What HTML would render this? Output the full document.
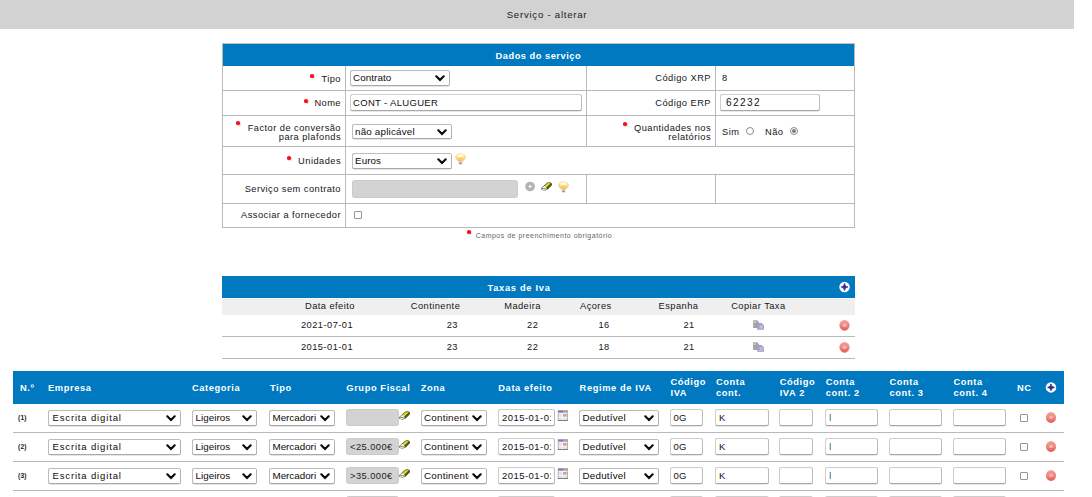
<!DOCTYPE html>
<html><head><meta charset="utf-8">
<style>
*{box-sizing:border-box;margin:0;padding:0}
html,body{width:1092px;height:497px;overflow:hidden;background:#fff}
body{font-family:"Liberation Sans",sans-serif;font-size:9.3px;color:#161616;letter-spacing:.45px;position:relative}
.a{position:absolute;white-space:nowrap}
.topbar{left:0;top:0;width:1074px;height:29px;background:#d2d2d2;text-align:center;line-height:30px;color:#1a1a1a;font-size:9.6px;letter-spacing:.76px;padding-left:20px}
.blue{background:#0079c1}
.bt{color:#fff;font-weight:bold;font-size:9.3px;letter-spacing:.6px;line-height:10px}
.hl{background:#b9b9b9;height:1px}
.vl{background:#b9b9b9;width:1px}
.t{line-height:10px;height:10px;color:#161616}
.r{text-align:right}
.c{text-align:center}
.star{width:3.7px;height:3.7px;border-radius:50%;background:#f5101c;box-shadow:.8px .8px 1.2px rgba(0,0,0,.22);filter:blur(.35px)}
.sel{border:1px solid #bcbcbc;border-bottom-color:#a9a9a9;border-right-color:#b2b2b2;border-radius:2.5px;background:#fff;height:16px;line-height:13px;padding-left:2px;color:#0c0c0c;font-size:9.8px;letter-spacing:.1px;overflow:hidden;box-shadow:0 .5px 0 #ccc}
.sel svg{position:absolute;right:4px;top:4px}
.sel i{position:absolute;right:0;top:0;width:17px;height:14px;background:#fff}
.inp{border:1px solid #cdcdcd;border-right-color:#bcbcbc;border-bottom-color:#a8a8a8;border-radius:2.5px;background:#fff;height:16px;line-height:15px;padding-left:4px;color:#111;overflow:hidden;box-shadow:0 .5px 0 #d2d2d2;font-size:9.5px;letter-spacing:.2px}
.gray{background:#d3d3d3;border:1px solid #cbcbcb;border-radius:2.5px;height:17px;line-height:15px;color:#222}
.cb{width:8px;height:8px;border:1px solid #969696;border-radius:1px;background:#fff}
.rd{width:8px;height:8px;border:1px solid #8a8a8a;border-radius:50%;background:#fff}
.sm{font-size:6.7px;font-weight:bold;letter-spacing:.2px;color:#222;line-height:8px}
</style></head><body>
<svg width="0" height="0" style="position:absolute"><defs><filter id="b3" x="-20%" y="-20%" width="140%" height="140%"><feGaussianBlur stdDeviation=".35"/></filter><filter id="b5" x="-20%" y="-20%" width="140%" height="140%"><feGaussianBlur stdDeviation=".6"/></filter><filter id="b4" x="-20%" y="-20%" width="140%" height="140%"><feGaussianBlur stdDeviation=".45"/></filter><radialGradient id="bg" cx="50%" cy="40%" r="60%"><stop offset="0" stop-color="#fff3c8"/><stop offset=".6" stop-color="#fde0a0"/><stop offset="1" stop-color="#f3b25c"/></radialGradient><linearGradient id="rl" x1="0" y1="0" x2="0" y2="1"><stop offset="0" stop-color="#f29f98"/><stop offset=".5" stop-color="#ee8882"/><stop offset="1" stop-color="#e55a53"/></linearGradient><radialGradient id="rg" cx="50%" cy="45%" r="55%"><stop offset="0" stop-color="#f0a199"/><stop offset=".6" stop-color="#e9776f"/><stop offset="1" stop-color="#e2625a"/></radialGradient></defs></svg>
<div class="a topbar">Serviço - alterar</div>
<div class="a blue" style="left:223px;top:44px;width:631px;height:22px;"></div>
<div class="a hl" style="left:222px;top:43px;width:633px;background:#c4c0bc;"></div>
<div class="a bt" style="left:495.6px;top:51px;letter-spacing:.5px">Dados do serviço</div>
<div class="a vl" style="left:222px;top:43px;height:185px;"></div>
<div class="a vl" style="left:854px;top:43px;height:185px;"></div>
<div class="a vl" style="left:345px;top:66px;height:162px;"></div>
<div class="a vl" style="left:586px;top:66px;height:80px;"></div>
<div class="a vl" style="left:586px;top:175px;height:28px;"></div>
<div class="a vl" style="left:715px;top:66px;height:80px;"></div>
<div class="a vl" style="left:715px;top:175px;height:28px;"></div>
<div class="a hl" style="left:222px;top:90px;width:633px;"></div>
<div class="a hl" style="left:222px;top:115px;width:633px;"></div>
<div class="a hl" style="left:222px;top:146px;width:633px;"></div>
<div class="a hl" style="left:222px;top:174px;width:633px;"></div>
<div class="a hl" style="left:222px;top:203px;width:633px;"></div>
<div class="a hl" style="left:222px;top:227px;width:633px;"></div>
<div class="a star" style="left:310px;top:74px"></div>
<div class="a t r" style="right:751px;top:74px;">Tipo</div>
<div class="a sel" style="left:350px;top:70px;width:100px;height:16px;padding-left:2px;">Contrato<i></i><svg width="10" height="7" viewBox="0 0 10 7"><path d="M1.3 1.3 L5 5 L8.7 1.3" fill="none" stroke="#0a0a0a" stroke-width="2.1" stroke-linecap="round" stroke-linejoin="miter"/></svg></div>
<div class="a star" style="left:304px;top:99px"></div>
<div class="a t r" style="right:751px;top:98px;">Nome</div>
<div class="a inp" style="left:350px;top:94px;width:232px;height:17px;padding-left:2px;letter-spacing:.33px;">CONT - ALUGUER</div>
<div class="a star" style="left:236px;top:121px"></div>
<div class="a t r" style="right:751px;top:123px;">Factor de conversão</div>
<div class="a t r" style="right:751px;top:132px;">para plafonds</div>
<div class="a sel" style="left:352px;top:124px;width:100px;height:15px;letter-spacing:0.2px;padding-left:2px;">não aplicável<i></i><svg width="10" height="7" viewBox="0 0 10 7"><path d="M1.3 1.3 L5 5 L8.7 1.3" fill="none" stroke="#0a0a0a" stroke-width="2.1" stroke-linecap="round" stroke-linejoin="miter"/></svg></div>
<div class="a star" style="left:287px;top:156px"></div>
<div class="a t r" style="right:751px;top:156px;">Unidades</div>
<div class="a sel" style="left:352px;top:153px;width:100px;height:16px;padding-left:2px;">Euros<i></i><svg width="10" height="7" viewBox="0 0 10 7"><path d="M1.3 1.3 L5 5 L8.7 1.3" fill="none" stroke="#0a0a0a" stroke-width="2.1" stroke-linecap="round" stroke-linejoin="miter"/></svg></div>
<svg class="a" style="left:455px;top:153px" width="12" height="13" viewBox="0 0 12 13"><g transform="translate(0.0 0.0)">
<g filter="url(#b3)">
<path d="M5.5 .3 C8.8 .3 10.7 2.2 10.7 4.2 C10.7 5.9 9 6.8 7.9 8.2 L3.1 8.2 C2 6.8 .3 5.9 .3 4.2 C.3 2.2 2.2 .3 5.5 .3Z" fill="url(#bg)"/>
<ellipse cx="5.5" cy="6" rx="2.6" ry="2" fill="#fbcf3a" opacity=".85"/>
<ellipse cx="5.5" cy="2.6" rx="3.4" ry="1.6" fill="#fffdf2" opacity=".8"/>
<rect x="3.6" y="8.2" width="3.8" height="1.9" fill="#c4c4c4"/><rect x="4.2" y="10" width="2.6" height="1.3" fill="#8f8f8f"/>
</g></g></svg>
<div class="a t r" style="right:751px;top:184px;">Serviço sem contrato</div>
<div class="a gray" style="left:352px;top:180px;width:166px;height:18px;"></div>
<svg class="a" style="left:524px;top:181px" width="12" height="12" viewBox="0 0 12 12"><g transform="translate(0.6 0.0)"><circle cx="5.5" cy="5.5" r="3.1" fill="none" stroke="#b3b3b3" stroke-width="3.5"/></g></svg>
<svg class="a" style="left:541px;top:182px" width="13" height="11" viewBox="0 0 13 11"><g transform="translate(0.0 0.0)">
<g filter="url(#b3)">
<path d="M.1 6.2 L6 .7 Q8.8 -.3 10.5 .9 Q11.5 2 10.6 3.5 L6.4 7.7 Q3.4 9 .9 8 Q-.2 7.2 .1 6.2Z" fill="#4c4c1a"/>
<path d="M1.3 5.9 L6.3 1.3 Q8.6 .5 9.8 1.3 L5.2 5.8 Q3 6.6 1.3 5.9Z" fill="#c9c920"/>
<path d="M3.8 4.7 L7 1.8 Q8.3 1.4 8.9 1.7 L5.8 4.6Z" fill="#dcdc40"/>
<path d="M1.2 5.8 L3.4 3.9 Q4.6 4.6 5.4 5.6 Q3 6.6 1.2 5.8Z" fill="#f4f4f0"/>
<path d="M.6 6.3 Q3 7.2 5.6 6 L6.2 7.3 Q3.4 8.6 1 7.7Z" fill="#e2e2e2"/>
<path d="M5.6 6.1 L10.1 1.8 Q10.6 2.5 10.1 3.2 L6.2 7.1Z" fill="#56561a"/>
</g></g></svg>
<svg class="a" style="left:558px;top:181px" width="12" height="13" viewBox="0 0 12 13"><g transform="translate(0.0 0.0)">
<g filter="url(#b3)">
<path d="M5.5 .3 C8.8 .3 10.7 2.2 10.7 4.2 C10.7 5.9 9 6.8 7.9 8.2 L3.1 8.2 C2 6.8 .3 5.9 .3 4.2 C.3 2.2 2.2 .3 5.5 .3Z" fill="url(#bg)"/>
<ellipse cx="5.5" cy="6" rx="2.6" ry="2" fill="#fbcf3a" opacity=".85"/>
<ellipse cx="5.5" cy="2.6" rx="3.4" ry="1.6" fill="#fffdf2" opacity=".8"/>
<rect x="3.6" y="8.2" width="3.8" height="1.9" fill="#c4c4c4"/><rect x="4.2" y="10" width="2.6" height="1.3" fill="#8f8f8f"/>
</g></g></svg>
<div class="a t r" style="right:751px;top:210px;">Associar a fornecedor</div>
<div class="a cb" style="left:354px;top:211px;"></div>
<div class="a t r" style="right:381px;top:73px;">Código XRP</div>
<div class="a t" style="left:722px;top:73px;">8</div>
<div class="a t r" style="right:381px;top:98px;">Código ERP</div>
<div class="a inp" style="left:720px;top:94px;width:100px;height:17px;font-size:10px;letter-spacing:1.45px;padding-left:5px;line-height:16px;">62232</div>
<div class="a star" style="left:623px;top:122px"></div>
<div class="a t r" style="right:381px;top:123px;">Quantidades nos</div>
<div class="a t r" style="right:381px;top:132px;">relatórios</div>
<div class="a t" style="left:722px;top:127px;">Sim</div>
<div class="a rd" style="left:746px;top:127px;"></div>
<div class="a t" style="left:765px;top:127px;">Não</div>
<div class="a rd" style="left:790px;top:127px"><div style="position:absolute;left:1px;top:1px;width:4px;height:4px;border-radius:50%;background:#7b7b7b"></div></div>
<div class="a star" style="left:467px;top:230px"></div>
<div class="a t" style="left:475.7px;top:230px;font-size:7px;letter-spacing:.5px;color:#666;top:231px;">Campos de preenchimento obrigatório</div>
<div class="a blue" style="left:222px;top:276px;width:633px;height:22px;"></div>
<div class="a bt" style="left:487.5px;top:283px;letter-spacing:.7px">Taxas de Iva</div>
<svg class="a" style="left:837px;top:280px" width="15" height="15" viewBox="0 0 15 15"><g transform="translate(0.5 0.0)"><circle cx="7" cy="7" r="5.25" fill="#fafaff"/><g filter="url(#b5)"><path d="M7 3.6V10.4M3.6 7H10.4" stroke="#3a3a94" stroke-width="1.6"/><circle cx="7" cy="7" r="2" fill="#30308a"/></g></g></svg>
<div class="a " style="left:222px;top:298px;width:633px;height:17px;background:#efefef;border-top:1px solid #f6f8fa;"></div>
<div class="a hl" style="left:222px;top:336px;width:633px;"></div>
<div class="a hl" style="left:222px;top:358px;width:633px;"></div>
<div class="a t" style="left:305px;top:301px;">Data efeito</div>
<div class="a t" style="left:410.8px;top:301px;">Continente</div>
<div class="a t" style="left:504.2px;top:301px;">Madeira</div>
<div class="a t" style="left:580px;top:301px;">Açores</div>
<div class="a t" style="left:658.6px;top:301px;">Espanha</div>
<div class="a t" style="left:731.2px;top:301px;">Copiar Taxa</div>
<div class="a t" style="left:301px;top:320px;">2021-07-01</div>
<div class="a t r" style="right:634px;top:320px;">23</div>
<div class="a t r" style="right:553.7px;top:320px;">22</div>
<div class="a t r" style="right:482.29999999999995px;top:320px;">16</div>
<div class="a t r" style="right:397.29999999999995px;top:320px;">21</div>
<div class="a t" style="left:301px;top:342px;">2015-01-01</div>
<div class="a t r" style="right:634px;top:342px;">23</div>
<div class="a t r" style="right:553.7px;top:342px;">22</div>
<div class="a t r" style="right:482.29999999999995px;top:342px;">18</div>
<div class="a t r" style="right:397.29999999999995px;top:342px;">21</div>
<svg class="a" style="left:752px;top:320px" width="13" height="11" viewBox="0 0 13 11"><g transform="translate(0.9 0.0)">
<g filter="url(#b3)">
<path d="M.2 .2H4.2L6 2V8.1H.2Z" fill="#a3a3a3"/>
<rect x="1.3" y="1.2" width="1.8" height="1.8" fill="#cfcfcf"/>
<path d="M4.3 3H8.6L11 5.2V9.8H4.3Z" fill="#9a9ade"/>
<rect x="5.6" y="5.2" width="4.2" height="3.4" fill="#c2c2c8"/>
<rect x="5.6" y="5.2" width="1.4" height="3.4" fill="#a9a9a9"/>
</g></g></svg>
<svg class="a" style="left:837px;top:318px" width="15" height="15" viewBox="0 0 15 15"><g transform="translate(0.5 0.3)"><g filter="url(#b4)"><ellipse cx="7" cy="7" rx="5.1" ry="5.4" fill="url(#rl)"/><ellipse cx="7" cy="6.9" rx="1.9" ry="1.7" fill="#f9c6c0" opacity=".8"/></g></g></svg>
<svg class="a" style="left:752px;top:342px" width="13" height="11" viewBox="0 0 13 11"><g transform="translate(0.9 0.0)">
<g filter="url(#b3)">
<path d="M.2 .2H4.2L6 2V8.1H.2Z" fill="#a3a3a3"/>
<rect x="1.3" y="1.2" width="1.8" height="1.8" fill="#cfcfcf"/>
<path d="M4.3 3H8.6L11 5.2V9.8H4.3Z" fill="#9a9ade"/>
<rect x="5.6" y="5.2" width="4.2" height="3.4" fill="#c2c2c8"/>
<rect x="5.6" y="5.2" width="1.4" height="3.4" fill="#a9a9a9"/>
</g></g></svg>
<svg class="a" style="left:837px;top:340px" width="15" height="15" viewBox="0 0 15 15"><g transform="translate(0.5 0.3)"><g filter="url(#b4)"><ellipse cx="7" cy="7" rx="5.1" ry="5.4" fill="url(#rl)"/><ellipse cx="7" cy="6.9" rx="1.9" ry="1.7" fill="#f9c6c0" opacity=".8"/></g></g></svg>
<div class="a blue" style="left:13px;top:371px;width:1051px;height:33px;"></div>
<div class="a bt" style="left:20px;top:383px">N.º</div>
<div class="a bt" style="left:48px;top:383px">Empresa</div>
<div class="a bt" style="left:192px;top:383px">Categoria</div>
<div class="a bt" style="left:270px;top:383px">Tipo</div>
<div class="a bt" style="left:346.3px;top:383px">Grupo Fiscal</div>
<div class="a bt" style="left:420.7px;top:383px">Zona</div>
<div class="a bt" style="left:498.3px;top:383px">Data efeito</div>
<div class="a bt" style="left:579.6px;top:383px">Regime de IVA</div>
<div class="a bt" style="left:670.5px;top:377px">Código</div>
<div class="a bt" style="left:670.5px;top:387.5px">IVA</div>
<div class="a bt" style="left:716px;top:377px">Conta</div>
<div class="a bt" style="left:716px;top:387.5px">cont.</div>
<div class="a bt" style="left:779.7px;top:377px">Código</div>
<div class="a bt" style="left:779.7px;top:387.5px">IVA 2</div>
<div class="a bt" style="left:825.7px;top:377px">Conta</div>
<div class="a bt" style="left:825.7px;top:387.5px">cont. 2</div>
<div class="a bt" style="left:889.4px;top:377px">Conta</div>
<div class="a bt" style="left:889.4px;top:387.5px">cont. 3</div>
<div class="a bt" style="left:953.4px;top:377px">Conta</div>
<div class="a bt" style="left:953.4px;top:387.5px">cont. 4</div>
<div class="a bt" style="left:1017px;top:383px">NC</div>
<svg class="a" style="left:1044px;top:380px" width="15" height="15" viewBox="0 0 15 15"><g transform="translate(0.0 0.4)"><circle cx="7" cy="7" r="5.25" fill="#fafaff"/><g filter="url(#b5)"><path d="M7 3.6V10.4M3.6 7H10.4" stroke="#3a3a94" stroke-width="1.6"/><circle cx="7" cy="7" r="2" fill="#30308a"/></g></g></svg>
<div class="a hl" style="left:13px;top:432px;width:1051px;"></div>
<div class="a sm" style="left:18px;top:414px">(1)</div>
<div class="a sel" style="left:48px;top:410px;width:133px;height:16px;font-size:9.5px;letter-spacing:0.85px;padding-left:3.5px;">Escrita digital<i></i><svg width="10" height="7" viewBox="0 0 10 7"><path d="M1.3 1.3 L5 5 L8.7 1.3" fill="none" stroke="#0a0a0a" stroke-width="2.1" stroke-linecap="round" stroke-linejoin="miter"/></svg></div>
<div class="a sel" style="left:192px;top:410px;width:65px;height:16px;letter-spacing:0.05px;padding-left:2.5px;">Ligeiros<i></i><svg width="10" height="7" viewBox="0 0 10 7"><path d="M1.3 1.3 L5 5 L8.7 1.3" fill="none" stroke="#0a0a0a" stroke-width="2.1" stroke-linecap="round" stroke-linejoin="miter"/></svg></div>
<div class="a sel" style="left:269px;top:410px;width:66px;height:16px;letter-spacing:0px;padding-left:2.5px;">Mercadori<i></i><svg width="10" height="7" viewBox="0 0 10 7"><path d="M1.3 1.3 L5 5 L8.7 1.3" fill="none" stroke="#0a0a0a" stroke-width="2.1" stroke-linecap="round" stroke-linejoin="miter"/></svg></div>
<div class="a gray" style="left:346px;top:409px;width:53px;height:17px;padding-left:3px;line-height:16px;"></div>
<svg class="a" style="left:399px;top:411px" width="13" height="11" viewBox="0 0 13 11"><g transform="translate(0.0 0.0)">
<g filter="url(#b3)">
<path d="M.1 6.2 L6 .7 Q8.8 -.3 10.5 .9 Q11.5 2 10.6 3.5 L6.4 7.7 Q3.4 9 .9 8 Q-.2 7.2 .1 6.2Z" fill="#4c4c1a"/>
<path d="M1.3 5.9 L6.3 1.3 Q8.6 .5 9.8 1.3 L5.2 5.8 Q3 6.6 1.3 5.9Z" fill="#c9c920"/>
<path d="M3.8 4.7 L7 1.8 Q8.3 1.4 8.9 1.7 L5.8 4.6Z" fill="#dcdc40"/>
<path d="M1.2 5.8 L3.4 3.9 Q4.6 4.6 5.4 5.6 Q3 6.6 1.2 5.8Z" fill="#f4f4f0"/>
<path d="M.6 6.3 Q3 7.2 5.6 6 L6.2 7.3 Q3.4 8.6 1 7.7Z" fill="#e2e2e2"/>
<path d="M5.6 6.1 L10.1 1.8 Q10.6 2.5 10.1 3.2 L6.2 7.1Z" fill="#56561a"/>
</g></g></svg>
<div class="a sel" style="left:421px;top:410px;width:66px;height:16px;letter-spacing:0.25px;padding-left:2px;">Continente<i></i><svg width="10" height="7" viewBox="0 0 10 7"><path d="M1.3 1.3 L5 5 L8.7 1.3" fill="none" stroke="#0a0a0a" stroke-width="2.1" stroke-linecap="round" stroke-linejoin="miter"/></svg></div>
<div class="a inp" style="left:498px;top:409px;width:57px;height:17px;padding-left:3px;line-height:16px;"><span style="display:block;width:49.2px;overflow:hidden;letter-spacing:.45px">2015-01-01</span></div>
<svg class="a" style="left:557px;top:410px" width="12" height="12" viewBox="0 0 12 12"><g transform="translate(0.8 0.2)">
<g filter="url(#b3)">
<rect x="0" y="0" width="10.2" height="10.8" fill="#9a9a9a"/>
<rect x=".7" y=".7" width="8.8" height="9.2" fill="#e4e4e4"/>
<rect x=".5" y=".5" width="4.7" height="2.1" fill="#7676cc"/><rect x="5.2" y=".5" width="4.5" height="2.1" fill="#a6a6a6"/>
<rect x="5.2" y="3.6" width="3.6" height="3" fill="#dc9c9c"/>
<path d="M.7 3.1H9.5M.7 7.1H9.5M4.7 3V10" stroke="#fafafa" stroke-width=".8"/>
<rect x="0" y="9.9" width="10.2" height=".9" fill="#7c7c7c"/>
</g></g></svg>
<div class="a sel" style="left:579px;top:410px;width:80px;height:16px;letter-spacing:0.22px;padding-left:2.5px;">Dedutível<i></i><svg width="10" height="7" viewBox="0 0 10 7"><path d="M1.3 1.3 L5 5 L8.7 1.3" fill="none" stroke="#0a0a0a" stroke-width="2.1" stroke-linecap="round" stroke-linejoin="miter"/></svg></div>
<div class="a inp" style="left:670px;top:409px;width:33px;height:17px;padding-left:2.5px;line-height:16px;">0G</div>
<div class="a inp" style="left:715px;top:409px;width:54px;height:17px;padding-left:3px;line-height:16px;">K</div>
<div class="a inp" style="left:779px;top:409px;width:34px;height:17px;"></div>
<div class="a inp" style="left:825px;top:409px;width:53px;height:17px;"></div>
<div class="a" style="left:829px;top:414px;width:1px;height:7px;background:#fbd29a"></div><div class="a" style="left:830px;top:414px;width:1px;height:7px;background:#4aa3ea"></div>
<div class="a inp" style="left:889px;top:409px;width:53px;height:17px;"></div>
<div class="a inp" style="left:953px;top:409px;width:53px;height:17px;"></div>
<div class="a cb" style="left:1020px;top:414px;"></div>
<svg class="a" style="left:1044px;top:410px" width="15" height="15" viewBox="0 0 15 15"><g transform="translate(0.0 0.5)"><g filter="url(#b4)"><ellipse cx="7" cy="7" rx="5.1" ry="5.4" fill="url(#rl)"/><ellipse cx="7" cy="6.9" rx="1.9" ry="1.7" fill="#f9c6c0" opacity=".8"/></g></g></svg>
<div class="a hl" style="left:13px;top:461px;width:1051px;"></div>
<div class="a sm" style="left:18px;top:443px">(2)</div>
<div class="a sel" style="left:48px;top:439px;width:133px;height:16px;font-size:9.5px;letter-spacing:0.85px;padding-left:3.5px;">Escrita digital<i></i><svg width="10" height="7" viewBox="0 0 10 7"><path d="M1.3 1.3 L5 5 L8.7 1.3" fill="none" stroke="#0a0a0a" stroke-width="2.1" stroke-linecap="round" stroke-linejoin="miter"/></svg></div>
<div class="a sel" style="left:192px;top:439px;width:65px;height:16px;letter-spacing:0.05px;padding-left:2.5px;">Ligeiros<i></i><svg width="10" height="7" viewBox="0 0 10 7"><path d="M1.3 1.3 L5 5 L8.7 1.3" fill="none" stroke="#0a0a0a" stroke-width="2.1" stroke-linecap="round" stroke-linejoin="miter"/></svg></div>
<div class="a sel" style="left:269px;top:439px;width:66px;height:16px;letter-spacing:0px;padding-left:2.5px;">Mercadori<i></i><svg width="10" height="7" viewBox="0 0 10 7"><path d="M1.3 1.3 L5 5 L8.7 1.3" fill="none" stroke="#0a0a0a" stroke-width="2.1" stroke-linecap="round" stroke-linejoin="miter"/></svg></div>
<div class="a gray" style="left:346px;top:438px;width:53px;height:17px;padding-left:3px;line-height:16px;">&lt;25.000€</div>
<svg class="a" style="left:399px;top:440px" width="13" height="11" viewBox="0 0 13 11"><g transform="translate(0.0 0.0)">
<g filter="url(#b3)">
<path d="M.1 6.2 L6 .7 Q8.8 -.3 10.5 .9 Q11.5 2 10.6 3.5 L6.4 7.7 Q3.4 9 .9 8 Q-.2 7.2 .1 6.2Z" fill="#4c4c1a"/>
<path d="M1.3 5.9 L6.3 1.3 Q8.6 .5 9.8 1.3 L5.2 5.8 Q3 6.6 1.3 5.9Z" fill="#c9c920"/>
<path d="M3.8 4.7 L7 1.8 Q8.3 1.4 8.9 1.7 L5.8 4.6Z" fill="#dcdc40"/>
<path d="M1.2 5.8 L3.4 3.9 Q4.6 4.6 5.4 5.6 Q3 6.6 1.2 5.8Z" fill="#f4f4f0"/>
<path d="M.6 6.3 Q3 7.2 5.6 6 L6.2 7.3 Q3.4 8.6 1 7.7Z" fill="#e2e2e2"/>
<path d="M5.6 6.1 L10.1 1.8 Q10.6 2.5 10.1 3.2 L6.2 7.1Z" fill="#56561a"/>
</g></g></svg>
<div class="a sel" style="left:421px;top:439px;width:66px;height:16px;letter-spacing:0.25px;padding-left:2px;">Continente<i></i><svg width="10" height="7" viewBox="0 0 10 7"><path d="M1.3 1.3 L5 5 L8.7 1.3" fill="none" stroke="#0a0a0a" stroke-width="2.1" stroke-linecap="round" stroke-linejoin="miter"/></svg></div>
<div class="a inp" style="left:498px;top:438px;width:57px;height:17px;padding-left:3px;line-height:16px;"><span style="display:block;width:49.2px;overflow:hidden;letter-spacing:.45px">2015-01-01</span></div>
<svg class="a" style="left:557px;top:439px" width="12" height="12" viewBox="0 0 12 12"><g transform="translate(0.8 0.2)">
<g filter="url(#b3)">
<rect x="0" y="0" width="10.2" height="10.8" fill="#9a9a9a"/>
<rect x=".7" y=".7" width="8.8" height="9.2" fill="#e4e4e4"/>
<rect x=".5" y=".5" width="4.7" height="2.1" fill="#7676cc"/><rect x="5.2" y=".5" width="4.5" height="2.1" fill="#a6a6a6"/>
<rect x="5.2" y="3.6" width="3.6" height="3" fill="#dc9c9c"/>
<path d="M.7 3.1H9.5M.7 7.1H9.5M4.7 3V10" stroke="#fafafa" stroke-width=".8"/>
<rect x="0" y="9.9" width="10.2" height=".9" fill="#7c7c7c"/>
</g></g></svg>
<div class="a sel" style="left:579px;top:439px;width:80px;height:16px;letter-spacing:0.22px;padding-left:2.5px;">Dedutível<i></i><svg width="10" height="7" viewBox="0 0 10 7"><path d="M1.3 1.3 L5 5 L8.7 1.3" fill="none" stroke="#0a0a0a" stroke-width="2.1" stroke-linecap="round" stroke-linejoin="miter"/></svg></div>
<div class="a inp" style="left:670px;top:438px;width:33px;height:17px;padding-left:2.5px;line-height:16px;">0G</div>
<div class="a inp" style="left:715px;top:438px;width:54px;height:17px;padding-left:3px;line-height:16px;">K</div>
<div class="a inp" style="left:779px;top:438px;width:34px;height:17px;"></div>
<div class="a inp" style="left:825px;top:438px;width:53px;height:17px;"></div>
<div class="a" style="left:829px;top:443px;width:1px;height:7px;background:#fbd29a"></div><div class="a" style="left:830px;top:443px;width:1px;height:7px;background:#4aa3ea"></div>
<div class="a inp" style="left:889px;top:438px;width:53px;height:17px;"></div>
<div class="a inp" style="left:953px;top:438px;width:53px;height:17px;"></div>
<div class="a cb" style="left:1020px;top:443px;"></div>
<svg class="a" style="left:1044px;top:439px" width="15" height="15" viewBox="0 0 15 15"><g transform="translate(0.0 0.5)"><g filter="url(#b4)"><ellipse cx="7" cy="7" rx="5.1" ry="5.4" fill="url(#rl)"/><ellipse cx="7" cy="6.9" rx="1.9" ry="1.7" fill="#f9c6c0" opacity=".8"/></g></g></svg>
<div class="a hl" style="left:13px;top:490px;width:1051px;"></div>
<div class="a sm" style="left:18px;top:472px">(3)</div>
<div class="a sel" style="left:48px;top:468px;width:133px;height:16px;font-size:9.5px;letter-spacing:0.85px;padding-left:3.5px;">Escrita digital<i></i><svg width="10" height="7" viewBox="0 0 10 7"><path d="M1.3 1.3 L5 5 L8.7 1.3" fill="none" stroke="#0a0a0a" stroke-width="2.1" stroke-linecap="round" stroke-linejoin="miter"/></svg></div>
<div class="a sel" style="left:192px;top:468px;width:65px;height:16px;letter-spacing:0.05px;padding-left:2.5px;">Ligeiros<i></i><svg width="10" height="7" viewBox="0 0 10 7"><path d="M1.3 1.3 L5 5 L8.7 1.3" fill="none" stroke="#0a0a0a" stroke-width="2.1" stroke-linecap="round" stroke-linejoin="miter"/></svg></div>
<div class="a sel" style="left:269px;top:468px;width:66px;height:16px;letter-spacing:0px;padding-left:2.5px;">Mercadori<i></i><svg width="10" height="7" viewBox="0 0 10 7"><path d="M1.3 1.3 L5 5 L8.7 1.3" fill="none" stroke="#0a0a0a" stroke-width="2.1" stroke-linecap="round" stroke-linejoin="miter"/></svg></div>
<div class="a gray" style="left:346px;top:467px;width:53px;height:17px;padding-left:3px;line-height:16px;">&gt;35.000€</div>
<svg class="a" style="left:399px;top:469px" width="13" height="11" viewBox="0 0 13 11"><g transform="translate(0.0 0.0)">
<g filter="url(#b3)">
<path d="M.1 6.2 L6 .7 Q8.8 -.3 10.5 .9 Q11.5 2 10.6 3.5 L6.4 7.7 Q3.4 9 .9 8 Q-.2 7.2 .1 6.2Z" fill="#4c4c1a"/>
<path d="M1.3 5.9 L6.3 1.3 Q8.6 .5 9.8 1.3 L5.2 5.8 Q3 6.6 1.3 5.9Z" fill="#c9c920"/>
<path d="M3.8 4.7 L7 1.8 Q8.3 1.4 8.9 1.7 L5.8 4.6Z" fill="#dcdc40"/>
<path d="M1.2 5.8 L3.4 3.9 Q4.6 4.6 5.4 5.6 Q3 6.6 1.2 5.8Z" fill="#f4f4f0"/>
<path d="M.6 6.3 Q3 7.2 5.6 6 L6.2 7.3 Q3.4 8.6 1 7.7Z" fill="#e2e2e2"/>
<path d="M5.6 6.1 L10.1 1.8 Q10.6 2.5 10.1 3.2 L6.2 7.1Z" fill="#56561a"/>
</g></g></svg>
<div class="a sel" style="left:421px;top:468px;width:66px;height:16px;letter-spacing:0.25px;padding-left:2px;">Continente<i></i><svg width="10" height="7" viewBox="0 0 10 7"><path d="M1.3 1.3 L5 5 L8.7 1.3" fill="none" stroke="#0a0a0a" stroke-width="2.1" stroke-linecap="round" stroke-linejoin="miter"/></svg></div>
<div class="a inp" style="left:498px;top:467px;width:57px;height:17px;padding-left:3px;line-height:16px;"><span style="display:block;width:49.2px;overflow:hidden;letter-spacing:.45px">2015-01-01</span></div>
<svg class="a" style="left:557px;top:468px" width="12" height="12" viewBox="0 0 12 12"><g transform="translate(0.8 0.2)">
<g filter="url(#b3)">
<rect x="0" y="0" width="10.2" height="10.8" fill="#9a9a9a"/>
<rect x=".7" y=".7" width="8.8" height="9.2" fill="#e4e4e4"/>
<rect x=".5" y=".5" width="4.7" height="2.1" fill="#7676cc"/><rect x="5.2" y=".5" width="4.5" height="2.1" fill="#a6a6a6"/>
<rect x="5.2" y="3.6" width="3.6" height="3" fill="#dc9c9c"/>
<path d="M.7 3.1H9.5M.7 7.1H9.5M4.7 3V10" stroke="#fafafa" stroke-width=".8"/>
<rect x="0" y="9.9" width="10.2" height=".9" fill="#7c7c7c"/>
</g></g></svg>
<div class="a sel" style="left:579px;top:468px;width:80px;height:16px;letter-spacing:0.22px;padding-left:2.5px;">Dedutível<i></i><svg width="10" height="7" viewBox="0 0 10 7"><path d="M1.3 1.3 L5 5 L8.7 1.3" fill="none" stroke="#0a0a0a" stroke-width="2.1" stroke-linecap="round" stroke-linejoin="miter"/></svg></div>
<div class="a inp" style="left:670px;top:467px;width:33px;height:17px;padding-left:2.5px;line-height:16px;">0G</div>
<div class="a inp" style="left:715px;top:467px;width:54px;height:17px;padding-left:3px;line-height:16px;">K</div>
<div class="a inp" style="left:779px;top:467px;width:34px;height:17px;"></div>
<div class="a inp" style="left:825px;top:467px;width:53px;height:17px;"></div>
<div class="a" style="left:829px;top:472px;width:1px;height:7px;background:#fbd29a"></div><div class="a" style="left:830px;top:472px;width:1px;height:7px;background:#4aa3ea"></div>
<div class="a inp" style="left:889px;top:467px;width:53px;height:17px;"></div>
<div class="a inp" style="left:953px;top:467px;width:53px;height:17px;"></div>
<div class="a cb" style="left:1020px;top:472px;"></div>
<svg class="a" style="left:1044px;top:468px" width="15" height="15" viewBox="0 0 15 15"><g transform="translate(0.0 0.5)"><g filter="url(#b4)"><ellipse cx="7" cy="7" rx="5.1" ry="5.4" fill="url(#rl)"/><ellipse cx="7" cy="6.9" rx="1.9" ry="1.7" fill="#f9c6c0" opacity=".8"/></g></g></svg>
<div class="a hl" style="left:13px;top:519px;width:1051px;"></div>
<div class="a sel" style="left:48px;top:497px;width:133px;height:16px;font-size:9.5px;letter-spacing:0.85px;padding-left:3.5px;">Escrita digital<i></i><svg width="10" height="7" viewBox="0 0 10 7"><path d="M1.3 1.3 L5 5 L8.7 1.3" fill="none" stroke="#0a0a0a" stroke-width="2.1" stroke-linecap="round" stroke-linejoin="miter"/></svg></div>
<div class="a sel" style="left:192px;top:497px;width:65px;height:16px;letter-spacing:0.05px;padding-left:2.5px;">Ligeiros<i></i><svg width="10" height="7" viewBox="0 0 10 7"><path d="M1.3 1.3 L5 5 L8.7 1.3" fill="none" stroke="#0a0a0a" stroke-width="2.1" stroke-linecap="round" stroke-linejoin="miter"/></svg></div>
<div class="a sel" style="left:269px;top:497px;width:66px;height:16px;letter-spacing:0px;padding-left:2.5px;">Mercadori<i></i><svg width="10" height="7" viewBox="0 0 10 7"><path d="M1.3 1.3 L5 5 L8.7 1.3" fill="none" stroke="#0a0a0a" stroke-width="2.1" stroke-linecap="round" stroke-linejoin="miter"/></svg></div>
<div class="a gray" style="left:346px;top:496px;width:53px;height:17px;padding-left:3px;line-height:16px;"></div>
<svg class="a" style="left:399px;top:498px" width="13" height="11" viewBox="0 0 13 11"><g transform="translate(0.0 0.0)">
<g filter="url(#b3)">
<path d="M.1 6.2 L6 .7 Q8.8 -.3 10.5 .9 Q11.5 2 10.6 3.5 L6.4 7.7 Q3.4 9 .9 8 Q-.2 7.2 .1 6.2Z" fill="#4c4c1a"/>
<path d="M1.3 5.9 L6.3 1.3 Q8.6 .5 9.8 1.3 L5.2 5.8 Q3 6.6 1.3 5.9Z" fill="#c9c920"/>
<path d="M3.8 4.7 L7 1.8 Q8.3 1.4 8.9 1.7 L5.8 4.6Z" fill="#dcdc40"/>
<path d="M1.2 5.8 L3.4 3.9 Q4.6 4.6 5.4 5.6 Q3 6.6 1.2 5.8Z" fill="#f4f4f0"/>
<path d="M.6 6.3 Q3 7.2 5.6 6 L6.2 7.3 Q3.4 8.6 1 7.7Z" fill="#e2e2e2"/>
<path d="M5.6 6.1 L10.1 1.8 Q10.6 2.5 10.1 3.2 L6.2 7.1Z" fill="#56561a"/>
</g></g></svg>
<div class="a sel" style="left:421px;top:497px;width:66px;height:16px;letter-spacing:0.25px;padding-left:2px;">Continente<i></i><svg width="10" height="7" viewBox="0 0 10 7"><path d="M1.3 1.3 L5 5 L8.7 1.3" fill="none" stroke="#0a0a0a" stroke-width="2.1" stroke-linecap="round" stroke-linejoin="miter"/></svg></div>
<div class="a inp" style="left:498px;top:496px;width:57px;height:17px;padding-left:3px;line-height:16px;"><span style="display:block;width:49.2px;overflow:hidden;letter-spacing:.45px">2015-01-01</span></div>
<svg class="a" style="left:557px;top:497px" width="12" height="12" viewBox="0 0 12 12"><g transform="translate(0.8 0.2)">
<g filter="url(#b3)">
<rect x="0" y="0" width="10.2" height="10.8" fill="#9a9a9a"/>
<rect x=".7" y=".7" width="8.8" height="9.2" fill="#e4e4e4"/>
<rect x=".5" y=".5" width="4.7" height="2.1" fill="#7676cc"/><rect x="5.2" y=".5" width="4.5" height="2.1" fill="#a6a6a6"/>
<rect x="5.2" y="3.6" width="3.6" height="3" fill="#dc9c9c"/>
<path d="M.7 3.1H9.5M.7 7.1H9.5M4.7 3V10" stroke="#fafafa" stroke-width=".8"/>
<rect x="0" y="9.9" width="10.2" height=".9" fill="#7c7c7c"/>
</g></g></svg>
<div class="a sel" style="left:579px;top:497px;width:80px;height:16px;letter-spacing:0.22px;padding-left:2.5px;">Dedutível<i></i><svg width="10" height="7" viewBox="0 0 10 7"><path d="M1.3 1.3 L5 5 L8.7 1.3" fill="none" stroke="#0a0a0a" stroke-width="2.1" stroke-linecap="round" stroke-linejoin="miter"/></svg></div>
<div class="a inp" style="left:670px;top:496px;width:33px;height:17px;padding-left:2.5px;line-height:16px;">0G</div>
<div class="a inp" style="left:715px;top:496px;width:54px;height:17px;padding-left:3px;line-height:16px;">K</div>
<div class="a inp" style="left:779px;top:496px;width:34px;height:17px;"></div>
<div class="a inp" style="left:825px;top:496px;width:53px;height:17px;"></div>
<div class="a" style="left:829px;top:501px;width:1px;height:7px;background:#fbd29a"></div><div class="a" style="left:830px;top:501px;width:1px;height:7px;background:#4aa3ea"></div>
<div class="a inp" style="left:889px;top:496px;width:53px;height:17px;"></div>
<div class="a inp" style="left:953px;top:496px;width:53px;height:17px;"></div>
<div class="a cb" style="left:1020px;top:501px;"></div>
<svg class="a" style="left:1044px;top:497px" width="15" height="15" viewBox="0 0 15 15"><g transform="translate(0.0 0.5)"><g filter="url(#b4)"><ellipse cx="7" cy="7" rx="5.1" ry="5.4" fill="url(#rl)"/><ellipse cx="7" cy="6.9" rx="1.9" ry="1.7" fill="#f9c6c0" opacity=".8"/></g></g></svg>
</body></html>
